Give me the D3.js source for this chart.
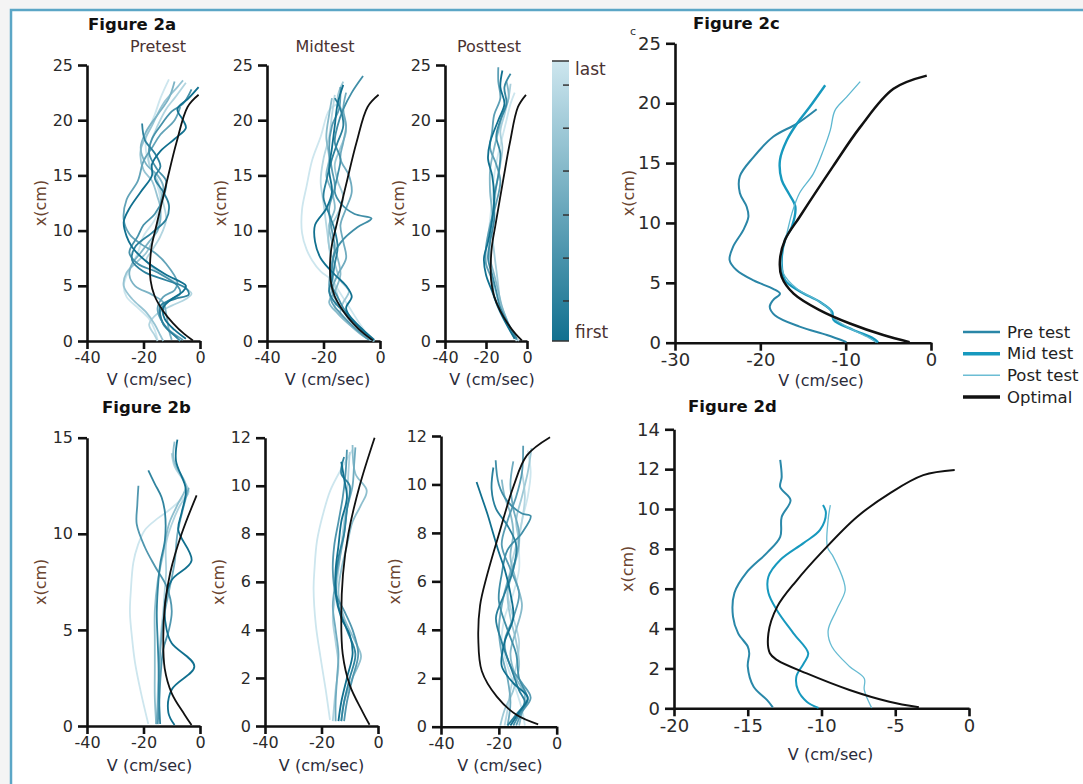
<!DOCTYPE html>
<html><head><meta charset="utf-8">
<script src="https://cdn.jsdelivr.net/npm/d3@7"></script>
<style>
body{margin:0;background:#f4f4f4;}
svg{display:block;}
text{font-family:"DejaVu Sans",sans-serif;}
</style></head>
<body><svg id="chart" width="1083" height="784"></svg>
<script>
// ---------------- DATA ----------------
// each trajectory: list of [V (cm/sec), x (cm)], ordered first -> last trial
const pre2a = [
 [[-0.5,23],[-4,22],[-8,21],[-6,20],[-5,19.3],[-9,18.3],[-14,17.2],[-17,16],[-17,15],[-21,13.5],[-25,12],[-27,10.8],[-26,9.5],[-24,8.5],[-19,7.2],[-12,6],[-5,5],[-6,4.5],[-10,3.8],[-13,3],[-12.5,2],[-9,1],[-5,0.2]],
 [[-20.5,19.7],[-19.5,18.2],[-16,17],[-14,15.8],[-16,14.8],[-13,13.5],[-11,12.3],[-12,11],[-17,9.8],[-23,8.5],[-24,7.3],[-20,6.3],[-12,5.5],[-5,4.8],[-4,4.2],[-9,3.8],[-14,3.2],[-14,2.2],[-12,1.2],[-8,0.3]],
 [[-3,22.8],[-6,21.5],[-10,20.8],[-14,19.5],[-17,18.3],[-18,17],[-15,15.5],[-12,14.5],[-13,13],[-16,11.5],[-20,10.5],[-22,9.5],[-25,8],[-22,7],[-15,6.2],[-8,5],[-7,4.3],[-12,3.5],[-14,2.7],[-13,1.5],[-9,0.5],[-7,0]],
 [[-7,21.2],[-9,20],[-14,18.7],[-17,17.5],[-20,16.3],[-22,14.5],[-26,12.8],[-27,11],[-25,9.7],[-21,8.8],[-16,8],[-12,7],[-8,5.3],[-9,4.6],[-13,4],[-15,3],[-14,2],[-11,1],[-6,0.1]],
 [[-9,23.5],[-11,22],[-15,20.5],[-19,19],[-21,17.5],[-19,16],[-15,15],[-13,14],[-14,12.5],[-14,11],[-15,10],[-18,9],[-21,8],[-24,7],[-25,6],[-23,5],[-17,4.2],[-13,3.5],[-12,2.5],[-11,1],[-10,0.1]],
 [[-6,23.6],[-8,23],[-13,21.5],[-17,19.5],[-21,17.3],[-20,15.5],[-17,14.5],[-15,13],[-14,12],[-15,10.5],[-17,9],[-19,8],[-23,7],[-26,6.2],[-27,5],[-24,3.8],[-19,2.6],[-16,1.5],[-14,0.5],[-13,0]],
 [[-5,23.4],[-9,22],[-12,21],[-15,19.5],[-18,17.5],[-18,16],[-15,14.5],[-13,12.5],[-12,11],[-14,9.5],[-17,8.2],[-19,7.3],[-15,6.3],[-8,5.2],[-3,4.3],[-5,3.8],[-10,3.2],[-15,2.5],[-18,1.5],[-16,0.5],[-15,0]],
 [[-11,23.7],[-14,22],[-16,20.5],[-19,18.5],[-19,17],[-17,15.5],[-15,14],[-14,12.5],[-16,11],[-20,9.5],[-22,8],[-25,6.5],[-27,5],[-26,4],[-22,3],[-18,2],[-16,1],[-15,0.1]]
];
const mid2a = [
 [[-13,23.2],[-15,21.5],[-16,19.5],[-17,17.5],[-18,15.5],[-17,13.5],[-19,12],[-23,10.5],[-23,9],[-21,7.5],[-16,6],[-12,5],[-10,4],[-12,3],[-10,2],[-6,1],[-2,0.1]],
 [[-16,22],[-14,21],[-13,19.5],[-15,18],[-17,16.5],[-19,14.5],[-20,13],[-18,11.5],[-16,10],[-15,8.5],[-16,7],[-17,5.5],[-18,4.5],[-16,3.5],[-12,2.5],[-7,1.2],[-3,0.1]],
 [[-6,24],[-10,22.5],[-13,21],[-15,19.5],[-16,18],[-14,16.5],[-15,15],[-16,13.5],[-14,12.5],[-9,11.5],[-3,11.1],[-8,10.3],[-13,9.2],[-16,8],[-17,6.5],[-17,5],[-15,4],[-13,3],[-8,1.5],[-3,0.2]],
 [[-14,23],[-14.5,21],[-17,19.5],[-18,17.5],[-17,15.5],[-16,14],[-18,12],[-17,10],[-16,8.5],[-17,7],[-18,5],[-17,3.5],[-14,2.5],[-9,1.2],[-4,0.1]],
 [[-12,22.5],[-13,21],[-12,19.5],[-13,18],[-14,16.5],[-11,15],[-10,13.5],[-12,12],[-14,10.5],[-13,9],[-12,7.5],[-15,6],[-17,4.5],[-15,3.5],[-11,2],[-6,0.8],[-2,0]],
 [[-17,22],[-18,20.5],[-19,18.5],[-18,16.5],[-19,15],[-17,13.5],[-16,12],[-18,10.5],[-17,9],[-15,7.5],[-14,6],[-16,4.5],[-18,3.5],[-15,2.5],[-10,1.3],[-5,0.3],[-2,0]],
 [[-13,23.5],[-15,22],[-13,20.5],[-12,19],[-14,17.5],[-16,16],[-15,14.5],[-13,13],[-15,11.5],[-18,10],[-18,8.5],[-16,7],[-14,5.5],[-11,4.5],[-13,3.5],[-14,2.5],[-10,1.3],[-5,0.3],[-2,0]],
 [[-16,22.3],[-17,20.5],[-18,18.5],[-20,16.5],[-21,14.5],[-20,12.5],[-19,10.5],[-18,8.5],[-17,6.5],[-16,5],[-15,4],[-16,3],[-13,2],[-8,1],[-3,0.1]],
 [[-15,21.5],[-18,20.9],[-21,18.5],[-24,16.4],[-26,14],[-27.6,11.9],[-27.6,9.8],[-26,8.3],[-24,7.3],[-21,6.3],[-17,5.5],[-14,4.3],[-11,3.1],[-7,1.5],[-3,0.1]]
];
const post2a = [
 [[-12,24.5],[-13,23],[-11,21.5],[-14,20],[-18,18],[-19,16.5],[-17,15],[-16,13],[-17,11],[-19,9],[-21,7.5],[-20,6],[-17,4.5],[-14,3],[-10,1.5],[-6,0.2]],
 [[-8,24.2],[-11,23],[-10,21.5],[-13,20],[-15,18.5],[-13,17],[-14,15],[-16,13],[-16,11],[-18,9],[-19,7.5],[-17,6],[-15,4.5],[-13,3],[-9,1.5],[-5,0.2]],
 [[-14,24.8],[-14,23.5],[-13,22],[-16,20.5],[-17,19],[-18,17.5],[-15,16],[-13,14.5],[-15,12.5],[-18,10.5],[-20,8.5],[-20,7],[-17,5.5],[-16,4],[-12,2.5],[-7,0.8],[-5,0.1]],
 [[-10,23.5],[-9,22],[-12,20.5],[-14,19],[-16,17.5],[-18,15.5],[-18,13.5],[-17,11.5],[-18,9.5],[-18,7.5],[-16,6],[-14,4.5],[-12,3],[-9,1.5],[-6,0.2]],
 [[-8,23.3],[-9,22],[-11,20.5],[-13,19],[-12,17.5],[-13,16],[-15,14],[-16,12],[-17,10],[-16,8],[-15,6.5],[-14,5],[-13,3.5],[-10,2],[-7,0.7],[-4,0]],
 [[-6,22.5],[-8,21.5],[-10,20],[-12,18.5],[-14,17],[-16,15],[-17,13],[-18,11],[-19,9],[-18,7],[-16,5],[-14,3.5],[-11,2],[-7,0.6],[-5,0]]
];
const pre2b = [
 [[-8,14.9],[-8.5,13.8],[-5,12.3],[-6.5,11.1],[-7.7,10.2],[-3,8.6],[-10,7.6],[-12.4,6.4],[-11.8,5],[-10,4.3],[-2,3.1],[-10,1.9],[-11.2,0.7],[-9,0.05]],
 [[-18.3,13.3],[-16,12.6],[-13.6,11.9],[-12.4,11.1],[-12.4,9.7],[-14,8.5],[-14.7,7.6],[-15.3,5.9],[-15,4.5],[-14.7,3.3],[-14.5,1.5],[-14.1,0.1]],
 [[-21.8,12.5],[-22.2,11.5],[-22.4,10.5],[-19.5,9.3],[-15.9,8.3],[-11.8,7.25],[-10,6],[-11,5],[-13,4],[-14,2.5],[-14.5,1],[-15,0.1]],
 [[-4,12.4],[-6,11.3],[-8,10],[-9,8.5],[-11,7],[-13,5.5],[-14,4],[-14.5,2.5],[-15,1],[-15.5,0.1]],
 [[-9,14.8],[-9.5,14],[-8.5,13.5],[-5,12.5],[-8,11.5],[-11,10.5],[-13,9],[-15,7.5],[-16,6],[-16,4.5],[-16,3],[-16,1.5],[-15.5,0.1]],
 [[-10,14.2],[-9,13.5],[-6,12.8],[-4,12.2],[-7,11.5],[-10,10.5],[-12,9.5],[-12,8],[-12.5,7],[-13,6],[-14,4.5],[-14.5,3],[-15,1.5],[-15,0.1]],
 [[-4,12.1],[-8,11.6],[-11.2,11.2],[-15,10.8],[-19.5,10.2],[-22,9.4],[-23.6,8.5],[-24.5,7],[-24.8,5.9],[-24,4.5],[-23,3.3],[-21,1.8],[-18.3,0.1]]
];
const mid2b = [
 [[-13,11],[-12,10.3],[-11,9.5],[-13,8.5],[-14,7.5],[-15,6.5],[-15,5.5],[-13,4.5],[-10,3.8],[-9,3],[-11,2],[-13,1],[-14,0.2]],
 [[-12,11.2],[-13,10.5],[-10,10],[-11,9],[-12,8],[-14,7],[-15,6],[-14,5],[-11,4],[-8,3],[-10,2],[-12,1],[-13,0.2]],
 [[-11,11.5],[-11.5,10.5],[-12.5,9.5],[-14,8.5],[-15.5,7.5],[-16,6.5],[-15,5.5],[-12,4.8],[-9,4],[-7,3],[-9,2],[-11,1],[-12,0.2]],
 [[-8,11.6],[-8.5,10.8],[-9,10],[-11,9],[-12,8],[-13.5,7],[-15,6],[-16,5],[-15,4],[-14,3],[-14.5,2],[-15,1],[-15,0.2]],
 [[-9,11.7],[-8,10.5],[-4,9.8],[-6,9.2],[-9,8.5],[-11,7.5],[-13,6.5],[-14,5.5],[-12,4.5],[-8,3.5],[-6,2.9],[-9,2],[-12,1],[-13,0.2]],
 [[-10,11.4],[-10.5,10.5],[-11,9.5],[-12,8.5],[-13,7.5],[-14,6.5],[-15,5.5],[-16,4.5],[-15,3.5],[-14,2.5],[-15,1.5],[-16,0.2]],
 [[-9,11.5],[-13,10.7],[-16.9,9.8],[-19.5,8.8],[-21.6,7.7],[-22.5,6.5],[-22.8,5.7],[-22,4.2],[-20.4,2.9],[-18.5,1.5],[-17,0.25]]
];
const post2b = [
 [[-27.7,10.1],[-26,9.5],[-24,8.8],[-22,8],[-20,7.2],[-18,6.5],[-16,5.5],[-15,4.5],[-18,3.5],[-19,2.5],[-15,1.8],[-10,1.2],[-13,0.6],[-16,0.05]],
 [[-21.9,10.7],[-22.5,9.8],[-21,9],[-17,8.3],[-14,7.5],[-15,6.5],[-18,5.5],[-21,4.5],[-19,3.5],[-16,2.5],[-13,1.5],[-11,1],[-14,0.5],[-17,0.05]],
 [[-21.1,11],[-20,10],[-17,9.3],[-12,8.8],[-9,8.7],[-12,8],[-17,7.3],[-19,6.3],[-20,5.2],[-17,4],[-14,3],[-13,2],[-10,1.1],[-13,0.5],[-15,0.05]],
 [[-11.6,11.6],[-12,10.5],[-14,9.5],[-17,8.5],[-19,7.5],[-16,6.5],[-13,5.5],[-15,4.5],[-18,3.5],[-16,2.5],[-12,1.8],[-9,1.2],[-12,0.6],[-14,0.05]],
 [[-15,10.95],[-16,10],[-15,9],[-13,8],[-14,7],[-17,6],[-19,5],[-20,4],[-19,3],[-17,2],[-16,1],[-17,0.05]],
 [[-19,10.2],[-18,9.5],[-16,8.8],[-15,8],[-16,7],[-14,6],[-12,5],[-14,4],[-16,3],[-14,2],[-11,1.3],[-12,0.6],[-13,0.05]],
 [[-8.7,11.5],[-10,10.5],[-12,9.5],[-14,8.5],[-13,7.5],[-15,6.5],[-17,5.5],[-16,4.5],[-14,3.5],[-13,2.5],[-15,1.5],[-18,0.7],[-19.5,0.05]],
 [[-12,10.5],[-11,9.5],[-12,8.5],[-14,7.5],[-16,6.5],[-17,5.5],[-15,4.5],[-13,3.5],[-14,2.5],[-16,1.5],[-17,0.7],[-18,0.05]],
 [[-10,11.4],[-9,10.5],[-10,9.5],[-12,8.5],[-13,7.5],[-13,6.5],[-15,5.5],[-18,4.5],[-19,3.5],[-17,2.5],[-14,1.5],[-12,0.7],[-11,0.05]]
];
const optimalA = [[-0.5,22.3],[-4.4,21.2],[-8.3,18],[-11.5,14.7],[-15.4,10.5],[-17.1,8.6],[-17.7,6.9],[-17.5,5.5],[-16.1,4.1],[-13,2.7],[-9.5,1.6],[-5.6,0.64],[-2.5,0.05]];
const optimalB = [[-1.2,12],[-6.5,10],[-10.5,8],[-12.4,6.3],[-13,4.6],[-12.5,3],[-10,1.7],[-5.5,0.6],[-3,0.05]];
const optimalBpost = [[-2.3,11.95],[-10.3,11.2],[-15,9.9],[-19.6,8.1],[-24.2,6.2],[-26.5,5],[-27.1,3.6],[-25.9,2.3],[-20.7,1.24],[-13.8,0.48],[-6.4,0.1]];
const cPre = [[-13.4,19.5],[-15.7,18.3],[-18.5,17.2],[-20.8,15.5],[-22.4,13.9],[-22.4,12.5],[-21.6,11.35],[-21.4,10.5],[-22,9.4],[-23.2,8],[-23.6,6.9],[-22.8,6.07],[-20.8,5.2],[-18.5,4.5],[-17.7,4.1],[-18.5,3.56],[-18.9,3],[-18.3,2.3],[-15.4,1.34],[-12.2,0.64],[-9.9,0.05]];
const cMid = [[-12.4,21.5],[-14.2,19.7],[-15.7,18.3],[-16.9,16.9],[-17.7,15.25],[-17.5,13.6],[-16.7,12.5],[-15.9,11.35],[-16.3,9.7],[-17.1,8.6],[-17.5,6.6],[-17.1,5.2],[-15.4,4.3],[-13,3.4],[-11.6,2.6],[-11.4,1.9],[-9.1,1.06],[-6.8,0.37],[-6.2,0.02]];
const cPost = [[-8.3,21.8],[-9.9,20.5],[-11.25,19.4],[-11.8,17.75],[-12.6,16.1],[-13.8,14.1],[-15.4,12.5],[-16.3,10.8],[-16.9,9.1],[-17.5,7.5],[-17.3,5.8],[-15.7,4.5],[-13.4,3.56],[-11.8,2.73],[-11.6,2.2],[-9.9,1.34],[-7.5,0.5],[-6.4,0.02]];
const dPre = [[-12.8,12.46],[-12.7,11.6],[-12.8,11.1],[-12.1,10.45],[-12.7,9.6],[-12.8,8.6],[-13.7,7.8],[-15.1,6.8],[-15.9,5.8],[-16,4.6],[-15.65,3.76],[-15,3.1],[-14.9,2.76],[-15,2.1],[-14.6,1.08],[-13.7,0.42],[-13.3,0.05]];
const dMid = [[-9.9,10.2],[-9.7,9.8],[-10.1,8.95],[-11.2,8.3],[-12.8,7.44],[-13.6,6.6],[-13.6,5.8],[-13,4.9],[-11.9,3.76],[-10.9,2.76],[-11.2,2.26],[-11.7,1.6],[-11.6,0.92],[-11,0.33],[-10.2,0.02]];
const dPost = [[-9.4,10.2],[-9.55,9.45],[-9.6,8.1],[-9.2,7.6],[-8.5,6.4],[-8.4,5.9],[-9,4.9],[-9.55,3.9],[-9.3,3.1],[-8.1,2.1],[-7.1,1.5],[-7.1,0.92],[-6.6,0.02]];
const dOpt = [[-0.97,11.96],[-3.1,11.7],[-5.35,10.8],[-7.6,9.6],[-9.9,7.9],[-11.7,6.4],[-13,5.1],[-13.6,3.76],[-13.5,2.76],[-13,2.42],[-11,1.75],[-8.1,0.92],[-5.4,0.33],[-3.4,0.05]];

const ticksV40 = [-40,-20,0];
const ticksX25 = [0,5,10,15,20,25];
const ticksX15 = [0,5,10,15];
const ticksX12 = [0,2,4,6,8,10,12];
const ticksV30 = [-30,-20,-10,0];
const ticksV20 = [-20,-15,-10,-5,0];
const ticksX14 = [0,2,4,6,8,10,12,14];
const legendLabels = ["Pre test","Mid test","Post test","Optimal"];
const colorbarLabels = ["last","first"];
const colorbarDashes = [0.143,0.296,0.45,0.607,0.76,0.914];

// ---------------- DRAWING ----------------
const svg = d3.select("#chart");
svg.append("rect").attr("x",11).attr("y",10).attr("width",1200).attr("height",900)
  .attr("fill","#fff").attr("stroke","#5ba6c6").attr("stroke-width",2.5);

const shade = d3.interpolateRgb("#11708f","#cde6ee");
const fmt = d => String(d);

function makePanel(o){
  const x = d3.scaleLinear().domain(o.xd).range([o.x0,o.x1]);
  const y = d3.scaleLinear().domain(o.yd).range([o.y0,o.y1]);
  const g = svg.append("g");
  const ax = g.append("g").attr("transform",`translate(0,${o.y0})`)
    .call(d3.axisBottom(x).tickValues(o.xt).tickFormat(fmt).tickSize(8).tickPadding(3).tickSizeOuter(0));
  const ay = g.append("g").attr("transform",`translate(${o.x0},0)`)
    .call(d3.axisLeft(y).tickValues(o.yt).tickFormat(fmt).tickSize(9).tickPadding(5).tickSizeOuter(0));
  [ax,ay].forEach(a=>{
    a.selectAll("path,line").attr("stroke","#111").attr("stroke-width",2.6);
    a.selectAll("text").attr("font-size",o.fs).attr("fill","#2a2a2a").style("font-family","DejaVu Sans");
  });
  g.append("text").attr("x",(o.x0+o.x1)/2+o.tdx).attr("y",o.tby)
    .attr("text-anchor","middle").attr("font-size",o.tfs).attr("fill","#2b2b3a").text("V (cm/sec)");
  g.append("text").attr("transform",`translate(${o.x0-47},${(o.y0+o.y1)/2}) rotate(-90)`)
    .attr("text-anchor","middle").attr("dominant-baseline","central")
    .attr("font-size",16).attr("fill","#6b4530").text("x(cm)");
  const line = d3.line().x(d=>x(d[0])).y(d=>y(d[1])).curve(d3.curveCatmullRom.alpha(0.5));
  return {g,x,y,line};
}

function trajectories(p, list, opt, optW){
  const n = list.length;
  // draw last (light) first so that darker first trials sit on top
  for(let i=n-1;i>=0;i--){
    p.g.append("path").attr("d",p.line(list[i])).attr("fill","none")
      .attr("stroke",shade(i/(n-1))).attr("stroke-width",1.8).attr("stroke-linejoin","round");
  }
  p.g.append("path").attr("d",p.line(opt)).attr("fill","none").attr("stroke","#111").attr("stroke-width",optW);
}

// Figure 2a
const pA1 = makePanel({xd:[-40,0],yd:[0,25],x0:87,x1:200,y0:341,y1:65,xt:ticksV40,yt:ticksX25,fs:16,tdx:6,tby:385,tfs:16});
trajectories(pA1,pre2a,optimalA,1.8);
const pA2 = makePanel({xd:[-40,0],yd:[0,25],x0:267,x1:380,y0:341,y1:65,xt:ticksV40,yt:ticksX25,fs:16,tdx:4,tby:385,tfs:16});
trajectories(pA2,mid2a,optimalA,1.8);
const pA3 = makePanel({xd:[-40,0],yd:[0,25],x0:445,x1:527,y0:341,y1:65,xt:ticksV40,yt:ticksX25,fs:16,tdx:6,tby:385,tfs:16});
trajectories(pA3,post2a,optimalA,1.8);

// Figure 2b
const pB1 = makePanel({xd:[-40,0],yd:[0,15],x0:87,x1:200,y0:726,y1:437.7,xt:ticksV40,yt:ticksX15,fs:16,tdx:6,tby:771,tfs:16});
trajectories(pB1,pre2b,optimalB,1.8);
const pB2 = makePanel({xd:[-40,0],yd:[0,12],x0:265,x1:378,y0:726,y1:437.7,xt:ticksV40,yt:ticksX12,fs:16,tdx:0,tby:771,tfs:16});
trajectories(pB2,mid2b,optimalB,1.8);
const pB3 = makePanel({xd:[-40,0],yd:[0,12],x0:441,x1:556.7,y0:726.7,y1:436,xt:ticksV40,yt:ticksX12,fs:16,tdx:1,tby:771,tfs:16});
trajectories(pB3,post2b,optimalBpost,1.8);

// Figure 2c
const pC = makePanel({xd:[-30,0],yd:[0,25],x0:675,x1:931,y0:342.7,y1:43.3,xt:ticksV30,yt:ticksX25,fs:18,tdx:18,tby:386,tfs:16});
const cStyles = [
  {data:cPre,color:"#2a86a7",w:2},
  {data:cMid,color:"#1799be",w:2.4},
  {data:cPost,color:"#5db7d0",w:1.3},
  {data:optimalA,color:"#111",w:2.5}
];
cStyles.forEach(s=>pC.g.append("path").attr("d",pC.line(s.data)).attr("fill","none").attr("stroke",s.color).attr("stroke-width",s.w));

// Figure 2d
const pD = makePanel({xd:[-20,0],yd:[0,14],x0:674,x1:969,y0:708.3,y1:429.3,xt:ticksV20,yt:ticksX14,fs:18,tdx:9,tby:760,tfs:16});
const dStyles = [
  {data:dPre,color:"#2a88a9",w:2},
  {data:dMid,color:"#1799be",w:2},
  {data:dPost,color:"#66bbd2",w:1.3},
  {data:dOpt,color:"#111",w:2}
];
dStyles.forEach(s=>pD.g.append("path").attr("d",pD.line(s.data)).attr("fill","none").attr("stroke",s.color).attr("stroke-width",s.w));

// Titles
const titles = [
  {t:"Figure 2a",x:88,y:30},{t:"Figure 2b",x:102,y:413},
  {t:"Figure 2c",x:693,y:29},{t:"Figure 2d",x:688,y:412}
];
titles.forEach(d=>svg.append("text").attr("x",d.x).attr("y",d.y).attr("font-size",16.5)
  .attr("font-weight","bold").attr("fill","#111").text(d.t));
const subs = [{t:"Pretest",x:158},{t:"Midtest",x:325},{t:"Posttest",x:489}];
subs.forEach(d=>svg.append("text").attr("x",d.x).attr("y",52).attr("text-anchor","middle")
  .attr("font-size",16).attr("fill","#4a3232").text(d.t));
svg.append("text").attr("x",630).attr("y",35).attr("font-size",11).attr("fill","#333").text("c");

// Colorbar
const defs = svg.append("defs");
const grad = defs.append("linearGradient").attr("id","cb").attr("x1",0).attr("y1",1).attr("x2",0).attr("y2",0);
d3.range(0,1.01,0.1).forEach(t=>grad.append("stop").attr("offset",t).attr("stop-color",shade(t)));
const cbY = d3.scaleLinear().domain([0,1]).range([341,61]);
svg.append("rect").attr("x",552).attr("y",cbY(1)).attr("width",17).attr("height",cbY(0)-cbY(1)).attr("fill","url(#cb)");
[0,1].forEach(t=>svg.append("line").attr("x1",552).attr("x2",569).attr("y1",cbY(t)).attr("y2",cbY(t)).attr("stroke","#333").attr("stroke-width",1.5));
colorbarDashes.forEach(t=>svg.append("line").attr("x1",563).attr("x2",569).attr("y1",cbY(t)).attr("y2",cbY(t)).attr("stroke","#333").attr("stroke-width",1.5));
svg.append("text").attr("x",575).attr("y",cbY(1)+14).attr("font-size",17).attr("fill","#4a3232").text(colorbarLabels[0]);
svg.append("text").attr("x",575).attr("y",cbY(0)-3).attr("font-size",17).attr("fill","#4a3232").text(colorbarLabels[1]);

// Legend
const legStyles = [{c:"#2a86a7",w:2.5},{c:"#1799be",w:3.5},{c:"#6cbdd4",w:1.5},{c:"#111",w:3.5}];
const legY = d3.scalePoint().domain(legendLabels).range([332,397]);
legendLabels.forEach((l,i)=>{
  svg.append("line").attr("x1",963).attr("x2",1000).attr("y1",legY(l)).attr("y2",legY(l))
    .attr("stroke",legStyles[i].c).attr("stroke-width",legStyles[i].w);
  svg.append("text").attr("x",1007).attr("y",legY(l)).attr("dominant-baseline","central")
    .attr("font-size",16.5).attr("fill","#222").text(l);
});
</script></body></html>
